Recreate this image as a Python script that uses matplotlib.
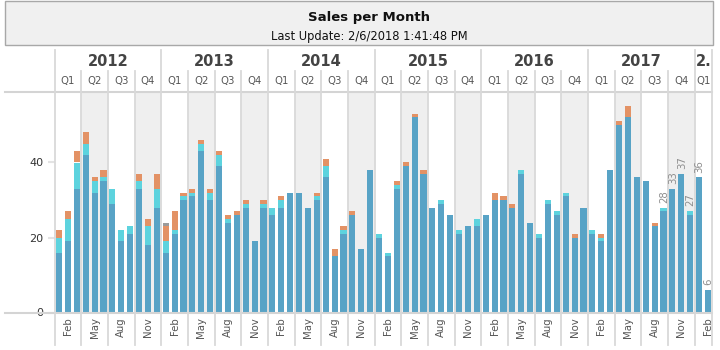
import matplotlib
matplotlib.use("Agg")
import matplotlib.pyplot as plt
import matplotlib.transforms as mtransforms
from matplotlib.patches import Rectangle

# ---------------- data ----------------
years = ["2012", "2013", "2014", "2015", "2016", "2017", "2."]
quarters = ["Q1", "Q2", "Q3", "Q4"]
month_names = ["Jan", "Feb", "Mar", "Apr", "May", "Jun",
               "Jul", "Aug", "Sep", "Oct", "Nov", "Dec"]

series_blue = [16, 19, 33, 42, 32, 35, 29, 19, 21, 33, 18, 28,
               16, 21, 30, 31, 43, 30, 39, 24, 26, 28, 19, 28,
               26, 28, 32, 32, 28, 30, 36, 15, 21, 26, 17, 38,
               20, 15, 33, 39, 52, 37, 28, 29, 26, 21, 23, 23,
               26, 30, 30, 28, 37, 24, 20, 29, 26, 31, 20, 28,
               21, 19, 38, 50, 52, 36, 35, 23, 27, 33, 37, 26,
               36, 6]
series_cyan = [4, 6, 7, 3, 3, 1, 4, 3, 2, 2, 5, 5,
               3, 1, 1, 1, 2, 2, 3, 1, 0, 1, 0, 1,
               2, 2, 0, 0, 0, 1, 3, 0, 1, 0, 0, 0,
               1, 1, 1, 0, 0, 0, 0, 1, 0, 1, 0, 2,
               0, 0, 0, 0, 1, 0, 1, 1, 1, 1, 0, 0,
               1, 1, 0, 0, 0, 0, 0, 0, 1, 0, 0, 1,
               0, 0]
series_orange = [2, 2, 3, 3, 1, 2, 0, 0, 0, 2, 2, 4,
                 4, 5, 1, 1, 1, 1, 1, 1, 1, 1, 0, 1,
                 0, 1, 0, 0, 0, 1, 2, 2, 1, 1, 0, 0,
                 0, 0, 1, 1, 1, 1, 0, 0, 0, 0, 0, 0,
                 0, 2, 1, 1, 0, 0, 0, 0, 0, 0, 1, 0,
                 0, 1, 0, 1, 3, 0, 0, 1, 0, 0, 0, 0,
                 0, 0]
series_gray = [0] * 12 + [1] + [0] * 61

labeled_last_n = 6
yticks = [0, 20, 40]

title = "Sales per Month"
subtitle = "Last Update: 2/6/2018 1:41:48 PM"

# ---------------- styling ----------------
C_BLUE = "#58a3c6"
C_CYAN = "#5dd3de"
C_ORANGE = "#e39265"
C_GRAY = "#9b9b9b"
LINE = "#d9d9d9"
SHADE = "#efefef"
TXT = "#333333"

plt.rcParams['font.family'] = ['DejaVu Sans']

W, H = 720, 350
fig = plt.figure(figsize=(W / 100, H / 100), dpi=100)

n = len(series_blue)
x = list(range(n))

ax_left, ax_right = 54.6, 712.4
ax_top, ax_bot = 92, 312.5
ax = fig.add_axes([ax_left / W, (H - ax_bot) / H,
                   (ax_right - ax_left) / W, (ax_bot - ax_top) / H])
ax.set_xlim(-0.5, n - 0.5)
ax.set_ylim(0, (ax_bot - ax_top) / 3.75)
ax.patch.set_alpha(0)

# shading Q2 / Q4
for q0 in range(0, n, 3):
    qi = (q0 // 3) % 4
    if qi in (1, 3):
        ax.axvspan(q0 - 0.5, min(q0 + 2, n - 1) + 0.5, color=SHADE, lw=0, zorder=0)

bw = 0.68
b1 = series_blue
b2 = [a + b for a, b in zip(b1, series_cyan)]
b3 = [a + b for a, b in zip(b2, series_orange)]
ax.bar(x, series_blue, width=bw, color=C_BLUE, zorder=2)
ax.bar(x, series_cyan, width=bw, bottom=b1, color=C_CYAN, zorder=2)
ax.bar(x, series_orange, width=bw, bottom=b2, color=C_ORANGE, zorder=2)
ax.bar(x, series_gray, width=bw, bottom=b3, color=C_GRAY, zorder=2)

totals = [a + b for a, b in zip(b3, series_gray)]

for s in ax.spines.values():
    s.set_visible(False)
ax.set_xticks([])
ax.set_yticks(yticks)
ax.set_yticklabels([str(t) for t in yticks])
ax.tick_params(axis='y', length=5, width=1.5, color="#e3e3e3", pad=3,
               labelsize=8, labelcolor=TXT)

# overlay in figure pixels
ov = fig.add_axes([0, 0, 1, 1])
ov.set_xlim(0, W)
ov.set_ylim(H, 0)
ov.axis('off')
bt = mtransforms.blended_transform_factory(ax.transData, ov.transData)

# title box
ov.add_patch(Rectangle((5, 1), 708, 44, fc="#f0f0f0", ec="#a8a8a8", lw=1.0))
ov.text(369, 17, title, ha='center', va='center', fontsize=9.5,
        fontweight='bold', color="#111111")
ov.text(369, 36.5, subtitle, ha='center', va='center', fontsize=8.3,
        color="#111111")

# horizontal rules
ov.plot([5, ax_right], [ax_top, ax_top], color="#d4d4d4", lw=1.5)
ov.plot([5, ax_right], [ax_bot, ax_bot], color="#d4d4d4", lw=1.5)

# vertical separators
for q0 in list(range(0, n, 3)) + [n]:
    if q0 % 12 == 0 or q0 == n:
        ov.plot([q0 - 0.5, q0 - 0.5], [50, 345], color=LINE, lw=1.3,
                transform=bt)
    else:
        ov.plot([q0 - 0.5, q0 - 0.5], [71, 345], color=LINE, lw=1.3,
                transform=bt)

# data labels (on top of separators)
for i in range(n - labeled_last_n, n):
    ov.text(i + 0.05, totals[i] + 1.3, str(totals[i]), rotation=90,
            ha='center', va='bottom', fontsize=7.3, color="#8e8e8e",
            transform=ax.transData, zorder=5)

# year labels
for yi, ylab in enumerate(years):
    s = yi * 12
    e = min(s + 11, n - 1)
    ov.text((s + e) / 2, 62, ylab, ha='center', va='center', fontsize=10.5,
            fontweight='bold', color="#444444", transform=bt)

# quarter labels
for q0 in range(0, n, 3):
    e = min(q0 + 2, n - 1)
    ov.text((q0 + e) / 2, 81, quarters[(q0 // 3) % 4], ha='center',
            va='center', fontsize=7.3, color="#555555", transform=bt)

# month labels
for i in range(n):
    if i % 3 == 1:
        ov.text(i, 317, month_names[i % 12], rotation=90, ha='center',
                va='top', fontsize=7.3, color="#555555", transform=bt)

fig.savefig("out.png", dpi=100)
